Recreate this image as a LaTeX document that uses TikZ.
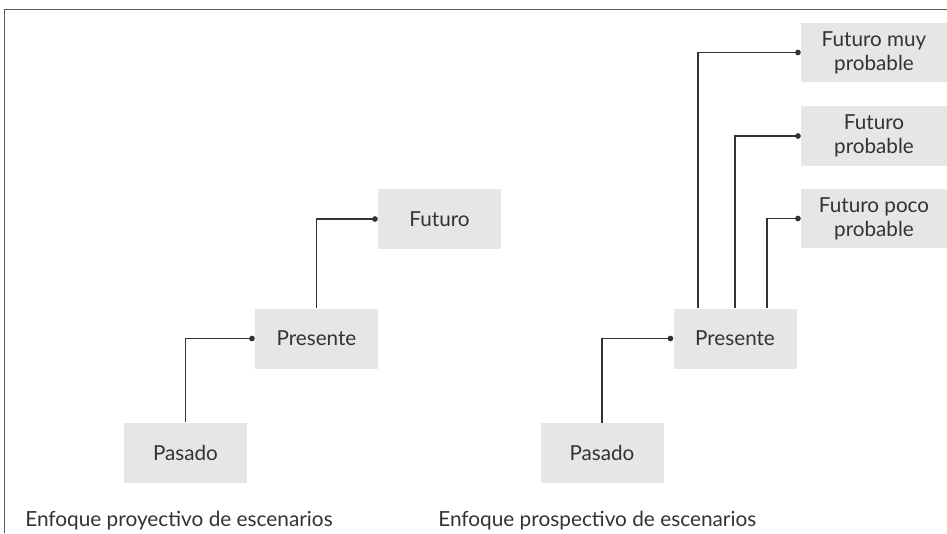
\documentclass[tikz,border=0pt]{standalone}
\usepackage{fontspec}
\setmainfont{Lato}
\usetikzlibrary{arrows.meta,calc}
\definecolor{boxgray}{HTML}{E6E6E6}
\definecolor{ink}{HTML}{333333}
\definecolor{framegray}{HTML}{5A5A5A}
\begin{document}
\begin{tikzpicture}[x=0.75pt,y=-0.75pt,
  stage/.style={fill=boxgray,draw=none,text=ink,align=center,inner sep=0pt,
    minimum width=92.25pt,minimum height=45pt,font=\fontsize{15.5}{18}\selectfont},
  wide/.style={stage,minimum width=109.5pt,minimum height=44.5pt},
  link/.style={draw=ink,line width=0.9pt,-{Circle[length=4.2pt]}},
  caption/.style={anchor=west,text=ink,inner sep=0pt,font=\fontsize{15.6}{18}\selectfont}]
\useasboundingbox (0,0) rectangle (947,533);
\fill[white] (0,0) rectangle (947,533);
% frame
\draw[framegray,line width=1.1pt] (4.5,533) -- (4.5,9.5) -- (947,9.5);

% projective approach
\node[stage] (futL)  at (439.5,219)   {Futuro};
\node[stage] (presL) at (316.5,338.5) {Presente};
\node[stage] (pasL)  at (185.5,452.5) {Pasado};
\draw[link] (pasL.north) |- (presL.west);
\draw[link] (presL.north) |- (futL.west);
\node[caption] (capL) at (25,521) {Enfoque proyectivo de escenarios};

% prospective approach
\node[stage] (presR) at (735,338.5) {Presente};
\node[stage] (pasR)  at (602,453)   {Pasado};
\node[wide] (fut1) at (874,52.5)  {Futuro muy\\probable};
\node[wide] (fut2) at (874,136)   {Futuro\\probable};
\node[wide] (fut3) at (874,218.5) {Futuro poco\\probable};
\draw[link] (pasR.north) |- (presR.west);
\coordinate (o1) at ($(presR.north)+(-37,0)$);
\coordinate (o3) at ($(presR.north)+(32,0)$);
\draw[link] (o1) |- (fut1.west);
\draw[link] (presR.north) |- (fut2.west);
\draw[link] (o3) |- (fut3.west);
\node[caption] (capR) at (438,521) {Enfoque prospectivo de escenarios};
\end{tikzpicture}
\end{document}
